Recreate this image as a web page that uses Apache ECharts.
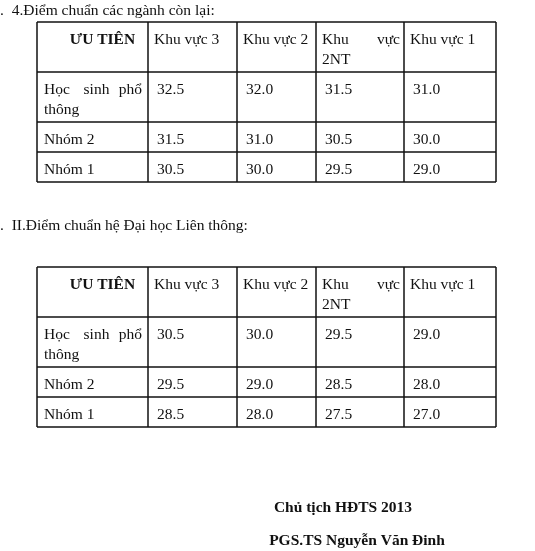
<!DOCTYPE html>
<html>
<head>
<meta charset="utf-8">
<script src="https://cdn.jsdelivr.net/npm/echarts@6/dist/echarts.min.js"></script>
</head>
<body style="margin:0;background:#fff">
<div id="main" style="width:535px;height:551px;"></div>
<script type="text/javascript">
    var headers = ['ƯU TIÊN', 'Khu vực 3', 'Khu vực 2', 'Khu vực 2NT', 'Khu vực 1'];
    var groups = ['Học sinh phổ thông', 'Nhóm 2', 'Nhóm 1'];
    var scores1 = [['32.5', '32.0', '31.5', '31.0'], ['31.5', '31.0', '30.5', '30.0'], ['30.5', '30.0', '29.5', '29.0']];
    var scores2 = [['30.5', '30.0', '29.5', '29.0'], ['29.5', '29.0', '28.5', '28.0'], ['28.5', '28.0', '27.5', '27.0']];
    var titles = ['4.Điểm chuẩn các ngành còn lại:', 'II.Điểm chuẩn hệ Đại học Liên thông:'];
    var signLines = ['Chủ tịch HĐTS 2013', 'PGS.TS Nguyễn Văn Đinh'];

    var myChart = echarts.init(document.getElementById('main'));
    var font = '"Liberation Serif", "Times New Roman", serif';
    var colX = [37, 148, 237, 316, 404, 496];
    var rowH = [50, 50, 30, 30];
    var els = [];

    function t(x, y, s, align, bold) {
        els.push({type: 'text', x: x, y: y, style: {
            text: s, font: (bold ? 'bold ' : '') + '15.5px ' + font, fill: '#111', textAlign: align || 'left'}});
    }
    function line(x1, y1, x2, y2) {
        els.push({type: 'line', shape: {x1: x1, y1: y1, x2: x2, y2: y2}, style: {stroke: '#111', lineWidth: 1.5}});
    }

    function drawTable(top, scores) {
        var ys = [top];
        rowH.forEach(function (h) { ys.push(ys[ys.length - 1] + h); });
        ys.forEach(function (y) { line(colX[0], y, colX[5], y); });
        colX.forEach(function (x) { line(x, top, x, ys[4]); });
        t((colX[0] + colX[1]) / 2 + 10, top + 10, headers[0], 'center', true);
        for (var c = 1; c < 5; c++) {
            var x0 = colX[c] + 6;
            if (c === 3) {
                var w = headers[c].split(' ');
                t(x0, top + 10, w[0]);
                t(colX[4] - 4, top + 10, w[1], 'right');
                t(x0, top + 30, w[2]);
            } else {
                t(x0, top + 10, headers[c]);
            }
        }
        for (var r = 0; r < 3; r++) {
            var y = ys[r + 1] + 10;
            var g = groups[r];
            if (r === 0) {
                var p = g.split(' ');
                t(colX[0] + 7, y, p[0]);
                t((colX[0] + colX[1]) / 2 + 4, y, p[1], 'center');
                t(colX[1] - 6, y, p[2], 'right');
                t(colX[0] + 7, y + 20, p[3]);
            } else {
                t(colX[0] + 7, y, g);
            }
            for (var k = 0; k < 4; k++) {
                t(colX[k + 1] + 9, y, scores[r][k]);
            }
        }
    }

    t(0, 3, '.  ' + titles[0]);
    drawTable(22, scores1);
    t(0, 218, '.  ' + titles[1]);
    drawTable(267, scores2);
    t(343, 500, signLines[0], 'center', true);
    t(357, 533, signLines[1], 'center', true);

    myChart.setOption({graphic: {elements: els}});
</script>
</body>
</html>
